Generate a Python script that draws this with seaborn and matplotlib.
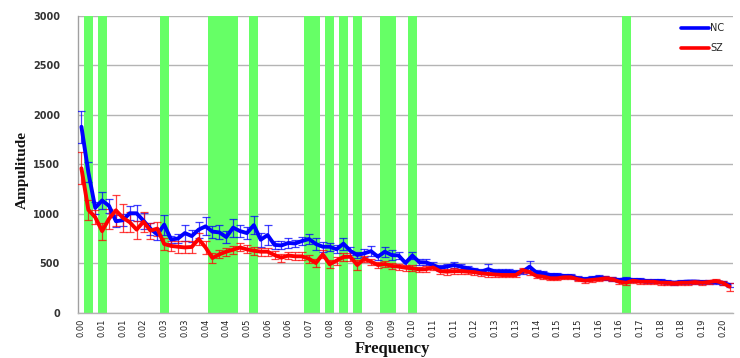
import numpy as np
import pandas as pd
import matplotlib
matplotlib.use("Agg")
import matplotlib.pyplot as plt
from matplotlib.lines import Line2D
import seaborn as sns

# ---------------- data ----------------
n_points = 95
freq_resolution = 0.002107          # Hz per frequency bin (category axis)
frequency = np.arange(n_points) * freq_resolution

tick_labels = ["0.00", "0.01", "0.01", "0.02", "0.03", "0.03", "0.04", "0.04",
               "0.05", "0.06", "0.06", "0.07", "0.08", "0.08", "0.09", "0.09",
               "0.10", "0.11", "0.11", "0.12", "0.13", "0.13", "0.14", "0.15",
               "0.15", "0.16", "0.16", "0.17", "0.18", "0.18", "0.19", "0.20"]

nc_amp = [1880, 1420, 1060, 1135, 1080, 925, 935, 1005, 1005, 930,
          850, 790, 890, 740, 750, 805, 775, 840, 873, 820,
          812, 765, 860, 825, 805, 885, 738, 785, 686, 680,
          705, 700, 725, 745, 695, 667, 667, 641, 698, 625,
          583, 600, 622, 566, 617, 583, 578, 503, 578, 511,
          508, 482, 452, 466, 482, 466, 449, 432, 415, 440,
          415, 415, 415, 405, 415, 465, 405, 399, 381, 381,
          371, 371, 348, 338, 348, 358, 348, 338, 331, 338,
          331, 331, 320, 320, 320, 310, 303, 310, 315, 315,
          310, 310, 310, 303, 280]

nc_err = [160, 100, 60, 90, 70, 60, 60, 70, 80, 80,
          60, 50, 100, 40, 50, 80, 60, 80, 90, 60,
          70, 60, 90, 60, 60, 90, 70, 100, 40, 40,
          50, 40, 40, 50, 60, 50, 40, 40, 60, 40,
          30, 40, 50, 30, 50, 50, 40, 30, 40, 30,
          30, 30, 30, 30, 30, 25, 25, 25, 25, 50,
          25, 25, 25, 25, 25, 60, 25, 20, 20, 20,
          20, 20, 20, 20, 20, 20, 20, 20, 20, 20,
          20, 20, 20, 20, 20, 20, 20, 20, 20, 20,
          20, 20, 20, 20, 20]

sz_amp = [1460, 1040, 965, 825, 950, 1035, 960, 915, 840, 920,
          830, 850, 695, 675, 667, 660, 665, 745, 660, 553,
          590, 617, 637, 660, 640, 627, 617, 617, 583, 556,
          578, 570, 570, 545, 503, 590, 490, 526, 563, 566,
          482, 545, 516, 482, 492, 472, 466, 455, 449, 437,
          440, 457, 420, 415, 420, 420, 415, 410, 398, 391,
          386, 381, 381, 381, 430, 410, 371, 364, 348, 348,
          358, 358, 338, 324, 331, 338, 348, 338, 313, 303,
          324, 313, 313, 313, 303, 303, 297, 303, 303, 310,
          303, 310, 320, 303, 263]

sz_err = [160, 100, 70, 85, 100, 160, 140, 100, 90, 100,
          80, 70, 60, 50, 60, 60, 60, 60, 70, 50,
          40, 40, 40, 40, 40, 40, 40, 40, 40, 40,
          40, 40, 40, 40, 40, 40, 40, 40, 40, 40,
          50, 30, 30, 30, 30, 30, 30, 30, 30, 30,
          30, 30, 30, 30, 30, 25, 25, 25, 25, 25,
          25, 25, 25, 25, 25, 25, 25, 25, 20, 20,
          20, 20, 20, 20, 20, 20, 20, 20, 20, 20,
          20, 20, 20, 20, 20, 20, 20, 20, 20, 20,
          20, 20, 20, 20, 40]

# frequency bins with significant group differences (green bands)
significant_bins = [1, 3, 12, 19, 20, 21, 22, 25, 33, 34, 36, 38, 40, 44, 45, 48, 79]

# ---------------- plot ----------------
sns.set_style("white")
plt.rcParams['font.family'] = ['DejaVu Sans']

idx = np.arange(n_points)
df = pd.DataFrame({
    "idx": np.concatenate([idx, idx]),
    "frequency": np.concatenate([frequency, frequency]),
    "amp": np.concatenate([nc_amp, sz_amp]),
    "group": ["NC"] * n_points + ["SZ"] * n_points,
})
palette = {"NC": "#0000FF", "SZ": "#FF0000"}

fig = plt.figure(figsize=(7.4, 3.58), dpi=100)
ax = fig.add_axes([78 / 740, 1 - 312.7 / 358, 655 / 740, (312.7 - 16) / 358])

# green significance bands
for b in significant_bins:
    ax.axvspan(b - 0.66, b + 0.66, color="#66FF66", lw=0, zorder=1)

# error bars and lines
for grp, err in (("NC", nc_err), ("SZ", sz_err)):
    sub = df[df.group == grp]
    ax.errorbar(sub["idx"], sub["amp"], yerr=err, fmt="none",
                ecolor=palette[grp], elinewidth=0.9, capsize=2.6,
                capthick=0.9, alpha=0.75, zorder=3)
sns.lineplot(data=df, x="idx", y="amp", hue="group", palette=palette,
             linewidth=2.8, ax=ax, legend=False, zorder=4)

ax.set_xlim(-0.5, n_points - 0.5)
ax.set_ylim(0, 3000)
ax.set_yticks(np.arange(0, 3001, 500))
ax.set_yticklabels([str(v) for v in range(0, 3001, 500)],
                   fontsize=7, fontweight="bold", color="#333333")
ax.set_xticks(idx[::3])
ax.set_xticklabels(tick_labels, rotation=90, fontsize=6, color="#222222")
ax.tick_params(axis="x", length=0, pad=4)
ax.tick_params(axis="y", length=0, pad=13)

ax.yaxis.grid(True, color="#b4b4b4", lw=1.0, zorder=0)
ax.set_axisbelow(True)
for s in ("top", "right"):
    ax.spines[s].set_visible(False)
ax.spines["left"].set_color("#a0a0a0")
ax.spines["bottom"].set_color("#b4b4b4")
ax.spines["left"].set_linewidth(1.0)
ax.spines["bottom"].set_linewidth(1.0)

ax.set_xlabel("")
ax.set_ylabel("")
fig.text(22 / 740, 1 - 170 / 358, "Ampulitude", rotation=90, ha="center",
         va="center", fontsize=11, fontweight="bold",
         family=["Liberation Serif", "DejaVu Serif"], color="#111111")
fig.text(393 / 740, 1 - 357 / 358, "Frequency", ha="center", va="bottom",
         fontsize=12, fontweight="bold",
         family=["Liberation Serif", "DejaVu Serif"], color="#111111")

handles = [Line2D([], [], color=palette["NC"], lw=2.6),
           Line2D([], [], color=palette["SZ"], lw=2.6)]
leg = ax.legend(handles, ["NC", "SZ"], loc="upper right",
                bbox_to_anchor=(1.0, 1.005), frameon=False, fontsize=7,
                handlelength=2.9, handletextpad=0.1, labelspacing=1.0)

fig.savefig("out.png", dpi=100)
